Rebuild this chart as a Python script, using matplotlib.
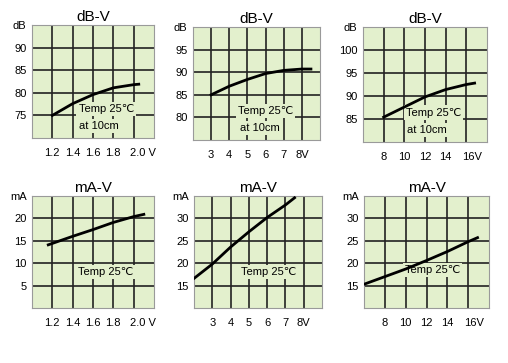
import matplotlib
matplotlib.use("Agg")
from matplotlib import pyplot as plt
from matplotlib import transforms

plt.rcParams['font.family'] = ['Liberation Sans', 'DejaVu Sans']

bg = "#e3f0cd"

# dB-V panels
db1_v = [1.2, 1.4, 1.6, 1.8, 2.0, 2.05]
db1_y = [75.0, 77.6, 79.6, 81.1, 81.8, 81.9]
db2_v = [3, 4, 5, 6, 7, 8, 8.5]
db2_y = [85.0, 86.9, 88.4, 89.7, 90.4, 90.7, 90.7]
db3_v = [8, 10, 12, 14, 16, 16.8]
db3_y = [85.4, 87.6, 89.8, 91.4, 92.5, 92.8]

# mA-V panels
ma1_v = [1.16, 1.4, 1.6, 1.8, 2.0, 2.1]
ma1_y = [14.1, 16.0, 17.5, 19.1, 20.4, 20.9]
ma2_v = [2.0, 3, 4, 5, 6, 7, 7.5]
ma2_y = [16.6, 19.8, 23.6, 27.0, 30.2, 33.0, 34.6]
ma3_v = [6, 8, 10, 12, 14, 16, 16.9]
ma3_y = [15.3, 17.0, 18.7, 20.6, 22.6, 24.8, 25.7]

panels = [
    # rect (l, t, r, b in px), x, y, xlim, ylim, xticks, xlabels, yticks, title, unit, texts
    ((32, 25, 154, 138), db1_v, db1_y, (1.0, 2.2), (70, 95),
     [1.2, 1.4, 1.6, 1.8, 2.0], ["1.2", "1.4", "1.6", "1.8", "2.0 V"],
     [75, 80, 85, 90], "dB-V", "dB", [(1.73, 76.4, "Temp 25℃"), (1.66, 72.6, "at 10cm")]),
    ((193, 27, 320, 140), db2_v, db2_y, (2, 9), (75, 100),
     [3, 4, 5, 6, 7, 8], ["3", "4", "5", "6", "7", "8V"],
     [80, 85, 90, 95], "dB-V", "dB", [(6.0, 81.4, "Temp 25℃"), (5.7, 77.6, "at 10cm")]),
    ((363, 27, 487, 142), db3_v, db3_y, (6, 18), (80, 105),
     [8, 10, 12, 14, 16], ["8", "10", "12", "14", "16V"],
     [85, 90, 95, 100], "dB-V", "dB", [(12.8, 86.4, "Temp 25℃"), (12.2, 82.6, "at 10cm")]),
    ((32, 196, 154, 308), ma1_v, ma1_y, (1.0, 2.2), (0, 25),
     [1.2, 1.4, 1.6, 1.8, 2.0], ["1.2", "1.4", "1.6", "1.8", "2.0 V"],
     [5, 10, 15, 20], "mA-V", "mA", [(1.72, 8.0, "Temp 25℃")]),
    ((194, 196, 322, 308), ma2_v, ma2_y, (2, 9), (10, 35),
     [3, 4, 5, 6, 7, 8], ["3", "4", "5", "6", "7", "8V"],
     [15, 20, 25, 30], "mA-V", "mA", [(6.1, 18.0, "Temp 25℃")]),
    ((364, 196, 489, 308), ma3_v, ma3_y, (6, 18), (10, 35),
     [8, 10, 12, 14, 16], ["8", "10", "12", "14", "16V"],
     [15, 20, 25, 30], "mA-V", "mA", [(12.6, 18.4, "Temp 25℃")]),
]

W, H = 508, 363
fig = plt.figure(figsize=(W / 100, H / 100), dpi=100)

for p in panels:
    (l, t, r, b), xs, ys, xl, yl, xt, xtl, yt, title, unit, texts = p
    ax = fig.add_axes([l / W, 1 - b / H, (r - l) / W, (b - t) / H])
    ax.set_facecolor(bg)
    ax.set_xlim(*xl)
    ax.set_ylim(*yl)
    for v in xt:
        ax.axvline(v, color="#222222", lw=1.2, zorder=1)
    for v in yt:
        ax.axhline(v, color="#222222", lw=1.2, zorder=1)
    ax.set_xticks(xt)
    ax.set_xticklabels(xtl)
    ax.set_yticks(yt + [yl[1]])
    ax.set_yticklabels([str(v) for v in yt] + [unit])
    ax.tick_params(length=0, labelsize=8)
    ax.tick_params(axis="x", pad=7)
    ax.tick_params(axis="y", pad=4)
    # unit label on last x tick sits a bit to the right, like the original
    last = ax.get_xticklabels()[-1]
    if len(xtl[-1]) > 2:
        last.set_ha("left")
        last.set_transform(last.get_transform() +
                           transforms.ScaledTranslation(-4 / 100, 0, fig.dpi_scale_trans))
    for s in ax.spines.values():
        s.set_color("#9a9a9a")
        s.set_linewidth(0.8)
    ax.plot(xs, ys, color="black", lw=2, zorder=4)
    for tx, ty, s in texts:
        ax.text(tx, ty, s, fontsize=8, ha="center", va="center", zorder=3,
                bbox=dict(facecolor=bg, edgecolor="none", pad=1.5))
    ax.set_title(title, fontsize=11, pad=3)

fig.savefig("out.png", dpi=100)
